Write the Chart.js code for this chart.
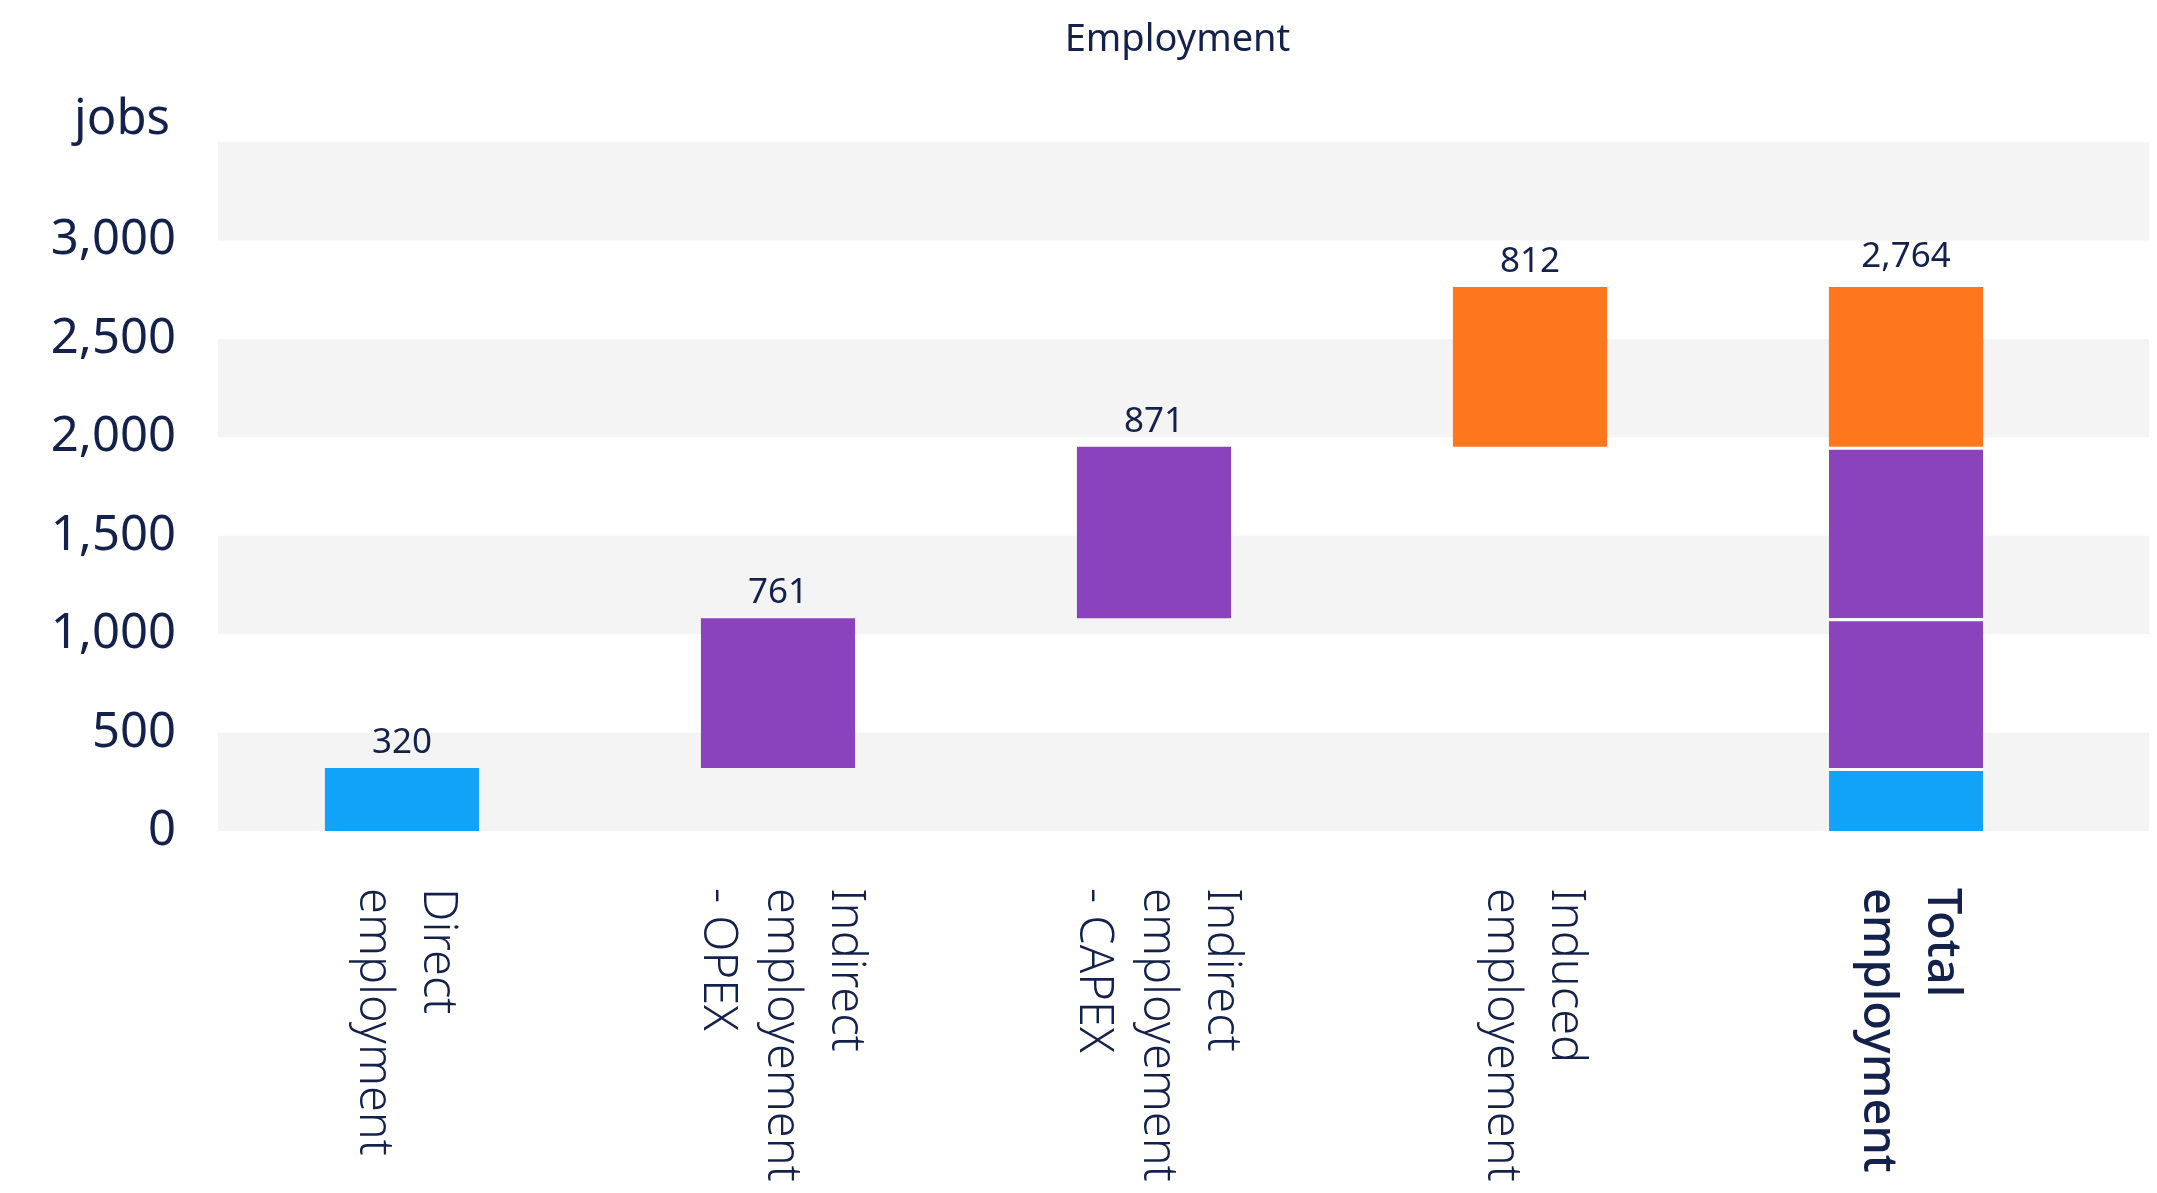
<!DOCTYPE html>
<html>
<head>
<meta charset="utf-8">
<title>Employment</title>
<script src="https://cdn.jsdelivr.net/npm/chart.js@4.4.1/dist/chart.umd.min.js"></script>
<style>
    html, body { margin: 0; padding: 0; background: #ffffff; }
    #wrap { width: 2157px; height: 1193px; position: relative; }
</style>
</head>
<body>
<div id="wrap"><canvas id="employment-chart"></canvas></div>
<script>
// Chart data
const categories = [
    ['Direct', 'employment'],
    ['Indirect', 'employement', '- OPEX'],
    ['Indirect', 'employement', '- CAPEX'],
    ['Induced', 'employement'],
    ['Total', 'employment']
];
const stepNames = ['Direct employment', 'Indirect employement - OPEX', 'Indirect employement - CAPEX', 'Induced employement'];
const stepValues = [320, 761, 871, 812];
const totalValue = 2764;
const stepColors = ['#10A3F7', '#8A43BD', '#8A43BD', '#FF771C'];
const yTicks = [0, 500, 1000, 1500, 2000, 2500, 3000];
const bandRanges = [[0, 500], [1000, 1500], [2000, 2500], [3000, 3500]];

const TEXT_COLOR = '#14224B';
const FONT = "'Noto Sans', 'Open Sans', sans-serif";
const TOTAL_INDEX = categories.length - 1;

// Build waterfall datasets: each step floats on the running sum and is repeated in the total column
let running = 0;
const tops = [];
const datasets = stepValues.map((value, i) => {
    const range = [running, running + value];
    running += value;
    tops.push(running);
    return {
        label: stepNames[i],
        data: categories.map((_, j) => (j === i || j === TOTAL_INDEX) ? range : null),
        backgroundColor: stepColors[i],
        borderColor: '#ffffff',
        // thin white separators between the segments of the total bar
        borderWidth: ctx => (ctx.dataIndex === TOTAL_INDEX && i < stepValues.length - 1)
            ? { top: 3, bottom: 0, left: 0, right: 0 } : 0,
        borderSkipped: 'start',
        grouped: false,
        barPercentage: 0.41,
        categoryPercentage: 1
    };
});
tops.push(totalValue);
const labelValues = [...stepValues, totalValue];

// Draws the shaded bands, value labels, title and rotated category labels
const textPlugin = {
    id: 'chartText',
    beforeDatasetsDraw(chart) {
        const { ctx, chartArea, scales: { y } } = chart;
        ctx.save();
        ctx.fillStyle = '#F4F4F4';
        bandRanges.forEach(([lo, hi]) => {
            const top = Math.max(y.getPixelForValue(hi), chartArea.top);
            const bottom = y.getPixelForValue(lo);
            ctx.fillRect(chartArea.left + 4, top, chart.width - 8 - chartArea.left - 4, bottom - top);
        });
        ctx.restore();
    },
    afterDatasetsDraw(chart) {
        const { ctx, scales: { x, y } } = chart;
        ctx.save();
        ctx.fillStyle = TEXT_COLOR;
        ctx.font = `35px ${FONT}`;
        ctx.textAlign = 'center';
        ctx.textBaseline = 'alphabetic';
        labelValues.forEach((v, i) => {
            const gap = i === TOTAL_INDEX ? 20 : 15;
            ctx.fillText(v.toLocaleString('en-US'), x.getPixelForValue(i), y.getPixelForValue(tops[i]) - gap);
        });
        ctx.restore();
    },
    afterDraw(chart) {
        const { ctx, chartArea, scales: { x } } = chart;
        ctx.save();
        ctx.fillStyle = TEXT_COLOR;
        ctx.textBaseline = 'alphabetic';

        // title
        ctx.font = `38px ${FONT}`;
        ctx.textAlign = 'center';
        ctx.fillText('Employment', (chartArea.left + chart.width) / 2 - 8, 51);

        // unit label
        ctx.font = `49px ${FONT}`;
        ctx.textAlign = 'right';
        ctx.fillText('jobs', 170, 134);

        // category labels, rotated clockwise
        const lineHeight = 64;
        categories.forEach((lines, i) => {
            const cx = x.getPixelForValue(i);
            ctx.save();
            ctx.translate(cx, 888);
            ctx.rotate(Math.PI / 2);
            ctx.textAlign = 'left';
            ctx.font = i === TOTAL_INDEX ? `500 47px ${FONT}` : `300 47px ${FONT}`;
            const first = -((lines.length - 1) * lineHeight / 2 - 10);
            lines.forEach((line, k) => {
                ctx.fillText(line, 0, first + k * lineHeight);
            });
            ctx.restore();
        });
        ctx.restore();
    }
};

Chart.defaults.font.family = FONT;
Chart.defaults.color = TEXT_COLOR;

new Chart(document.getElementById('employment-chart').getContext('2d'), {
    type: 'bar',
    data: {
        labels: categories.map(c => c.join(' ')),
        datasets: datasets
    },
    options: {
        responsive: true,
        maintainAspectRatio: false,
        animation: false,
        layout: {
            padding: { top: 142, right: 63, bottom: 0, left: 0 }
        },
        plugins: {
            legend: { display: false },
            tooltip: { enabled: false }
        },
        scales: {
            x: {
                grid: { display: false },
                border: { display: false },
                ticks: { display: false },
                afterFit: axis => { axis.height = 362; }
            },
            y: {
                min: 0,
                max: 3500,
                grid: { display: false, drawTicks: false },
                border: { display: false },
                afterBuildTicks: axis => { axis.ticks = yTicks.map(v => ({ value: v })); },
                afterFit: axis => { axis.width = 214; },
                ticks: {
                    padding: 38,
                    color: TEXT_COLOR,
                    font: { size: 49 },
                    callback: value => value.toLocaleString('en-US')
                }
            }
        }
    },
    plugins: [textPlugin]
});
</script>
</body>
</html>
